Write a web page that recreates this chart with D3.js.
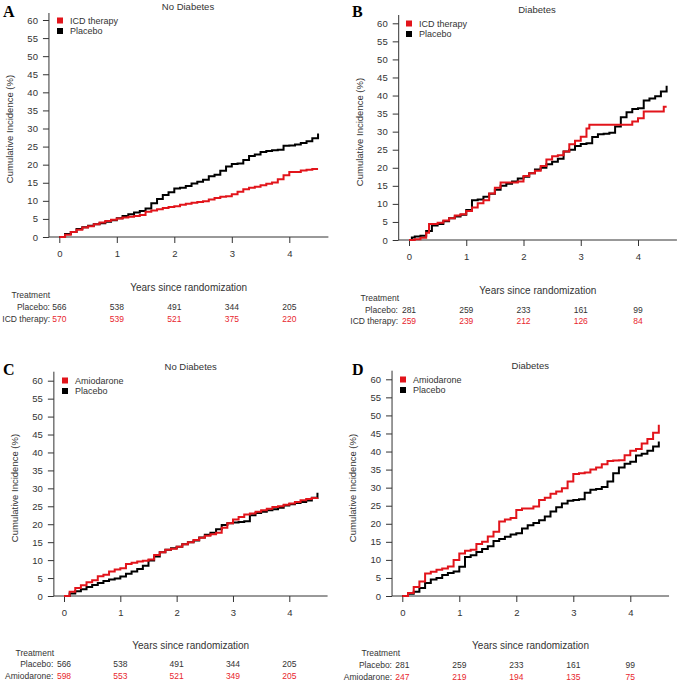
<!DOCTYPE html>
<html><head><meta charset="utf-8">
<script src="https://cdn.jsdelivr.net/npm/d3@7"></script>
<style>body{margin:0;background:#fff} text{font-family:"Liberation Sans",Arial,sans-serif;fill:#333}</style>
</head><body><svg id="c" width="677" height="681"></svg>
<script>
// ---------- DATA ----------
const yTickValues = [0,5,10,15,20,25,30,35,40,45,50,55,60];
const xTickValues = [0,1,2,3,4];

// Panel A: No Diabetes, ICD therapy vs Placebo
const timesA_icd = [0,0.1,0.2,0.3,0.4,0.5,0.6,0.7,0.8,0.9,1.0,1.1,1.2,1.3,1.4,1.5,1.6,1.7,1.8,1.9,2.0,2.1,2.2,2.3,2.4,2.5,2.6,2.7,2.8,2.9,3.0,3.1,3.2,3.3,3.4,3.5,3.6,3.7,3.8,3.9,4.0,4.1,4.2,4.3,4.4,4.5];
const valsA_icd  = [0,0.6,1.4,2.0,2.6,3.0,3.5,4.0,4.4,4.8,5.1,5.4,5.6,5.8,6.1,7.0,7.3,7.7,8.0,8.3,8.5,8.9,9.2,9.5,9.7,9.9,10.4,10.8,11.1,11.3,11.8,12.5,13.2,13.6,13.9,14.3,14.7,15.1,16.0,17.1,18.0,18.0,18.4,18.6,18.8,18.8];
const timesA_pla = [0,0.1,0.2,0.3,0.4,0.5,0.6,0.7,0.8,0.9,1.0,1.1,1.2,1.3,1.4,1.5,1.6,1.7,1.8,1.9,2.0,2.1,2.2,2.3,2.4,2.5,2.6,2.7,2.8,2.9,3.0,3.1,3.2,3.3,3.4,3.5,3.6,3.7,3.8,3.9,4.0,4.1,4.2,4.3,4.4,4.5];
const valsA_pla  = [0,0.8,1.4,2.2,2.7,3.1,3.5,3.8,4.2,4.6,5.2,5.8,6.3,6.8,7.2,7.9,9.3,10.5,11.6,12.4,13.4,13.6,14.1,14.8,15.3,15.8,16.8,17.2,18.3,19.5,20.2,20.3,21.3,22.4,22.8,23.5,23.8,24.0,24.1,25.2,25.3,25.6,26.0,26.5,27.3,28.6];

// Panel B: Diabetes, ICD therapy vs Placebo
const timesB_icd = [0,0.1,0.2,0.3,0.35,0.5,0.6,0.7,0.8,0.9,1.0,1.1,1.2,1.3,1.4,1.5,1.6,1.9,2.0,2.1,2.2,2.3,2.4,2.5,2.6,2.7,2.8,2.9,3.0,3.1,3.15,3.75,3.9,4.0,4.1,4.4,4.45,4.5];
const valsB_icd  = [0,0.2,0.6,2.0,4.4,4.8,5.4,6.0,6.8,7.1,8.0,9.0,10.2,11.0,12.9,14.5,15.9,16.2,17.7,18.5,19.2,20.5,22.3,23.2,23.5,24.5,26.5,27.5,28.6,30.9,31.9,31.9,32.8,33.7,35.6,35.6,36.9,36.9];
const timesB_pla = [0,0.05,0.1,0.2,0.3,0.4,0.5,0.6,0.7,0.8,0.9,1.0,1.1,1.2,1.3,1.4,1.5,1.6,1.7,1.8,1.9,2.0,2.1,2.2,2.3,2.4,2.5,2.6,2.7,2.8,2.9,3.0,3.1,3.2,3.3,3.4,3.5,3.6,3.7,3.8,3.9,4.0,4.1,4.2,4.3,4.4,4.5];
const valsB_pla  = [0,0.7,1.0,1.2,2.5,4.0,4.4,5.2,6.0,6.5,7.0,8.3,11.0,11.2,12.0,12.8,13.9,15.0,15.6,16.2,17.0,17.5,18.5,19.5,20.0,21.0,21.7,22.5,24.5,25.0,26.0,26.6,26.8,28.5,29.3,29.4,29.7,31.4,34.0,35.4,36.3,36.5,38.6,39.2,39.8,41.1,42.7];

// Panel C: No Diabetes, Amiodarone vs Placebo
const timesC_ami = [0,0.1,0.2,0.3,0.4,0.5,0.6,0.7,0.8,0.9,1.0,1.1,1.2,1.3,1.4,1.5,1.6,1.7,1.8,1.9,2.0,2.1,2.2,2.3,2.4,2.5,2.6,2.7,2.8,2.9,3.0,3.1,3.2,3.3,3.4,3.5,3.6,3.7,3.8,3.9,4.0,4.1,4.2,4.3,4.4,4.5];
const valsC_ami  = [0,1.2,2.2,3.0,3.8,4.4,5.5,5.9,6.8,7.4,7.7,8.9,9.3,9.6,9.8,10.2,11.4,12.2,12.9,13.2,13.7,14.4,15.0,15.6,16.2,16.8,17.2,17.6,19.0,20.3,21.3,22.0,22.7,23.0,23.5,23.9,24.3,24.8,25.0,25.4,25.8,26.2,26.7,27.0,27.3,27.4];
const timesC_pla = [0,0.1,0.2,0.3,0.4,0.5,0.6,0.7,0.8,0.9,1.0,1.1,1.2,1.3,1.4,1.5,1.6,1.7,1.8,1.9,2.0,2.1,2.2,2.3,2.4,2.5,2.6,2.7,2.8,2.9,3.0,3.1,3.2,3.3,3.4,3.5,3.6,3.7,3.8,3.9,4.0,4.1,4.2,4.3,4.4,4.5];
const valsC_pla  = [0,0.7,1.3,1.9,2.5,3.1,3.6,4.2,4.6,4.9,5.4,6.2,6.8,7.5,8.4,9.9,11.0,12.2,12.9,13.3,13.7,14.4,15.0,15.5,16.3,17.1,17.6,18.6,19.8,20.3,20.5,20.6,20.8,22.5,23.1,23.5,23.9,24.2,24.6,25.2,25.6,25.9,26.2,26.6,27.4,28.8];

// Panel D: Diabetes, Amiodarone vs Placebo
const timesD_ami = [0,0.1,0.2,0.3,0.4,0.5,0.6,0.7,0.8,0.9,1.0,1.1,1.2,1.3,1.4,1.5,1.6,1.7,1.8,1.9,2.0,2.1,2.2,2.3,2.4,2.5,2.6,2.7,2.8,2.9,3.0,3.1,3.2,3.3,3.4,3.5,3.6,3.7,3.8,3.9,4.0,4.1,4.2,4.3,4.4,4.5];
const valsD_ami  = [0,0.8,2.5,4.0,6.2,6.7,7.3,7.6,8.2,10.0,11.8,12.5,12.8,14.4,15.0,16.5,17.8,20.6,21.2,21.6,23.8,24.2,24.2,24.8,26.6,27.2,28.3,28.9,29.8,31.7,33.8,34.0,34.2,35.0,35.6,36.5,37.4,37.5,37.6,39.0,40.2,40.7,42.2,43.5,45.2,47.4];
const timesD_pla = [0,0.1,0.2,0.3,0.4,0.5,0.6,0.7,0.8,0.9,1.0,1.1,1.2,1.3,1.4,1.5,1.6,1.7,1.8,1.9,2.0,2.1,2.2,2.3,2.4,2.5,2.6,2.7,2.8,2.9,3.0,3.1,3.2,3.3,3.4,3.5,3.6,3.7,3.8,3.9,4.0,4.1,4.2,4.3,4.4,4.5];
const valsD_pla  = [0,0.6,1.2,2.2,3.6,4.6,5.0,5.8,6.4,6.8,8.1,10.8,11.3,12.2,13.0,13.8,15.2,15.8,16.4,17.0,17.4,18.7,19.6,20.2,21.0,22.0,23.4,24.6,25.6,26.4,26.6,26.8,28.6,29.4,29.6,30.2,31.7,34.0,35.6,36.6,37.2,38.9,39.4,40.2,41.4,42.8];

// Numbers at risk
const riskA_pla = [566,538,491,344,205];
const riskA_icd = [570,539,521,375,220];
const riskB_pla = [281,259,233,161,99];
const riskB_icd = [259,239,212,126,84];
const riskC_pla = [566,538,491,344,205];
const riskC_ami = [598,553,521,349,205];
const riskD_pla = [281,259,233,161,99];
const riskD_ami = [247,219,194,135,75];

// ---------- DRAWING ----------
const RED = "#e2141b", BLACK = "#000", REDTXT = "#e8262e";
const svg = d3.select("#c");

const panels = [
  {letter:"A", title:"No Diabetes", treat:"ICD therapy", tr:[timesA_icd,valsA_icd], pl:[timesA_pla,valsA_pla], rPl:riskA_pla, rTr:riskA_icd,
   x0:59.3, x4:289.3, y0:237, y60:20, yTop:13, lx:3, ly:11, tx:188, ty:6, legX:57, legY:[20.5,31], ylx:9, yly:129,
   xlabY:287, treatX:50, treatY:295, rowY:[307,319], labR:50},
  {letter:"B", title:"Diabetes", treat:"ICD therapy", tr:[timesB_icd,valsB_icd], pl:[timesB_pla,valsB_pla], rPl:riskB_pla, rTr:riskB_icd,
   x0:409, x4:638, y0:240, y60:23.3, yTop:15, lx:352, ly:11, tx:537, ty:9, legX:406, legY:[23.5,34], ylx:359, yly:132,
   xlabY:290, treatX:399, treatY:298, rowY:[310,321], labR:398},
  {letter:"C", title:"No Diabetes", treat:"Amiodarone", tr:[timesC_ami,valsC_ami], pl:[timesC_pla,valsC_pla], rPl:riskC_pla, rTr:riskC_ami,
   x0:64, x4:289.3, y0:596, y60:380.7, yTop:371.7, lx:3, ly:369, tx:190.7, ty:366, legX:62, legY:[380.5,391], ylx:14, yly:488,
   xlabY:645, treatX:54, treatY:652.7, rowY:[664,676], labR:53.3},
  {letter:"D", title:"Diabetes", treat:"Amiodarone", tr:[timesD_ami,valsD_ami], pl:[timesD_pla,valsD_pla], rPl:riskD_pla, rTr:riskD_ami,
   x0:402.3, x4:630.3, y0:596, y60:379.3, yTop:370.7, lx:352, ly:369, tx:530.3, ty:365, legX:400, legY:[379.5,390], ylx:352, yly:488,
   xlabY:645.7, treatX:400, treatY:653, rowY:[665,677], labR:392}
];

panels.forEach(p => {
  const x = d3.scaleLinear().domain([0,4]).range([p.x0, p.x4]);
  const y = d3.scaleLinear().domain([0,60]).range([p.y0, p.y60]);
  const g = svg.append("g");

  // axis lines (L-shaped box, R style: x range 0..4.5 with 4% padding)
  const xl = x(-0.18), xr = x(4.68);
  g.append("line").attr("x1",xl).attr("x2",xl).attr("y1",p.yTop).attr("y2",p.y0).attr("stroke","#333").attr("stroke-width",1);
  g.append("line").attr("x1",xl).attr("x2",xr).attr("y1",p.y0).attr("y2",p.y0).attr("stroke","#333").attr("stroke-width",1);

  // y axis
  const ya = g.append("g").attr("transform",`translate(${xl},0)`)
    .call(d3.axisLeft(y).tickValues(yTickValues).tickSize(6).tickPadding(5));
  ya.select(".domain").remove();
  ya.selectAll("line").attr("stroke","#333");
  ya.selectAll("text").style("font-size","9.5px").attr("fill","#333");

  // x axis
  const xa = g.append("g").attr("transform",`translate(0,${p.y0})`)
    .call(d3.axisBottom(x).tickValues(xTickValues).tickFormat(d3.format("d")).tickSize(6).tickPadding(7));
  xa.select(".domain").remove();
  xa.selectAll("line").attr("stroke","#333");
  xa.selectAll("text").style("font-size","9.5px").attr("fill","#333");

  // curves
  const line = d3.line().x(d => x(d[0])).y(d => y(d[1])).curve(d3.curveStepAfter);
  const toPts = s => s[0].map((t,i) => [t, s[1][i]]);
  g.append("path").attr("d", line(toPts(p.pl))).attr("fill","none").attr("stroke",BLACK).attr("stroke-width",2);
  g.append("path").attr("d", line(toPts(p.tr))).attr("fill","none").attr("stroke",RED).attr("stroke-width",2);

  // letter
  g.append("text").attr("x",p.lx).attr("y",p.ly).attr("dominant-baseline","central")
    .style("font-family","'Liberation Serif','Times New Roman',serif").style("font-weight","bold").style("font-size","16px")
    .style("fill","#000").text(p.letter);
  // title
  g.append("text").attr("x",p.tx).attr("y",p.ty).attr("text-anchor","middle").attr("dominant-baseline","central")
    .style("font-size","9.5px").text(p.title);
  // legend
  [[p.treat,RED],["Placebo",BLACK]].forEach((d,i) => {
    g.append("rect").attr("x",p.legX).attr("y",p.legY[i]-3).attr("width",6).attr("height",6).attr("fill",d[1]);
    g.append("text").attr("x",p.legX+13).attr("y",p.legY[i]).attr("dominant-baseline","central")
      .style("font-size","9px").text(d[0]);
  });
  // y label
  g.append("text").attr("transform",`translate(${p.ylx},${p.yly}) rotate(-90)`).attr("text-anchor","middle")
    .attr("dominant-baseline","central").style("font-size","9.5px").text("Cumulative Incidence (%)");
  // x label
  g.append("text").attr("x", x(2.25)).attr("y",p.xlabY)
    .attr("text-anchor","middle").attr("dominant-baseline","central").style("font-size","10px")
    .text("Years since randomization");
  // risk table
  g.append("text").attr("x",p.treatX).attr("y",p.treatY).attr("text-anchor","end").attr("dominant-baseline","central")
    .style("font-size","8.5px").text("Treatment");
  g.append("text").attr("x",p.labR).attr("y",p.rowY[0]).attr("text-anchor","end").attr("dominant-baseline","central")
    .style("font-size","8.5px").text("Placebo:");
  g.append("text").attr("x",p.labR).attr("y",p.rowY[1]).attr("text-anchor","end").attr("dominant-baseline","central")
    .style("font-size","8.5px").text(p.treat + ":");
  g.selectAll(".rp").data(p.rPl).enter().append("text").attr("x",(d,i)=>x(xTickValues[i])).attr("y",p.rowY[0])
    .attr("text-anchor","middle").attr("dominant-baseline","central").style("font-size","8.5px").text(d=>d);
  g.selectAll(".rt").data(p.rTr).enter().append("text").attr("x",(d,i)=>x(xTickValues[i])).attr("y",p.rowY[1])
    .attr("text-anchor","middle").attr("dominant-baseline","central").style("font-size","8.5px")
    .style("fill",REDTXT).text(d=>d);
});
</script></body></html>
